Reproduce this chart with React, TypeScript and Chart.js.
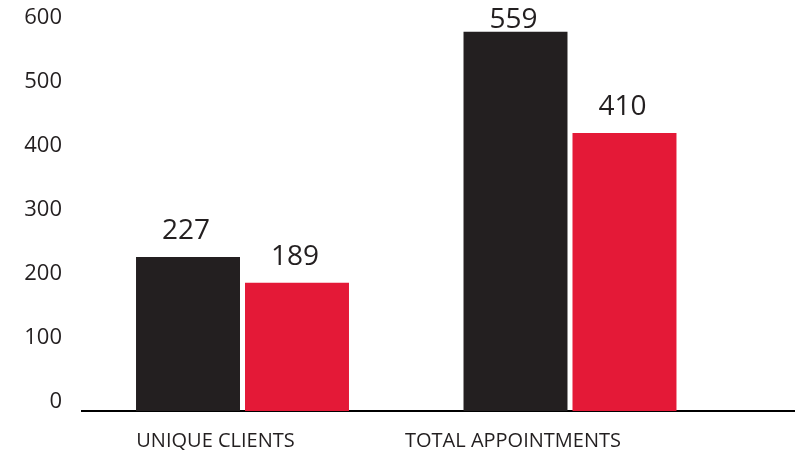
import React, { useEffect, useRef } from 'react';
import { Chart, registerables } from 'chart.js';

Chart.register(...registerables);

const categories = ['UNIQUE CLIENTS', 'TOTAL APPOINTMENTS'];
const categoryPositions = [1, 2];
const seriesBlack = [227, 559];
const seriesRed = [189, 410];
const yTickStep = 100;

const FONT = "'Open Sans', 'Noto Sans', sans-serif";
const TEXT = '#231f20';
const BLACK = '#231f20';
const RED = '#e41937';

const noPad = (s: any) => {
  s.paddingTop = 0;
  s.paddingBottom = 0;
  s.paddingLeft = 0;
  s.paddingRight = 0;
};

export default function App() {
  const ref = useRef<HTMLCanvasElement>(null);

  useEffect(() => {
    const valueLabels = {
      id: 'valueLabels',
      afterDatasetsDraw(chart: any) {
        const ctx = chart.ctx;
        ctx.save();
        ctx.font = `500 28px ${FONT}`;
        ctx.fillStyle = TEXT;
        ctx.textAlign = 'center';
        ctx.textBaseline = 'middle';
        chart.data.datasets.forEach((ds: any, i: number) => {
          chart.getDatasetMeta(i).data.forEach((el: any, j: number) => {
            const v = ds.data[j].y;
            ctx.fillText(String(v), el.x - 2, Math.max(el.y - 26, 20));
          });
        });
        ctx.restore();
      },
    };

    const chart = new Chart(ref.current as HTMLCanvasElement, {
      type: 'bar',
      data: {
        datasets: [
          {
            data: categoryPositions.map((x, i) => ({ x, y: seriesBlack[i] })),
            backgroundColor: BLACK,
            xAxisID: 'x',
            yAxisID: 'y',
            categoryPercentage: 0.6656,
            barPercentage: 0.954,
          },
          {
            data: categoryPositions.map((x, i) => ({ x, y: seriesRed[i] })),
            backgroundColor: RED,
            xAxisID: 'x',
            yAxisID: 'y',
            categoryPercentage: 0.6656,
            barPercentage: 0.954,
          },
        ],
      },
      options: {
        animation: false,
        responsive: false,
        maintainAspectRatio: false,
        layout: { padding: { left: 0, right: 4, top: 4, bottom: 0 } },
        plugins: { legend: { display: false }, tooltip: { enabled: false } },
        scales: {
          x: {
            type: 'linear',
            position: 'bottom',
            weight: 0,
            offset: false,
            min: 0.5099,
            max: 2.684,
            grid: { display: false, drawTicks: false, offset: false },
            border: { display: true, color: '#000000', width: 2 },
            ticks: { display: false },
            afterBuildTicks: (s: any) => {
              s.ticks = categoryPositions.map((value) => ({ value }));
            },
            afterFit: (s: any) => { s.height = 0; noPad(s); },
          },
          xl: {
            type: 'linear',
            axis: 'x',
            position: 'bottom',
            weight: 1,
            offset: false,
            min: 0.5513,
            max: 2.9445,
            grid: { display: false, drawTicks: false, offset: false },
            border: { display: false },
            ticks: {
              font: { family: FONT, size: 20 },
              color: TEXT,
              padding: 18,
              maxRotation: 0,
              autoSkip: false,
              callback: (v: any) => {
                const k = categoryPositions.indexOf(v);
                return k >= 0 ? categories[k] : '';
              },
            },
            afterBuildTicks: (s: any) => {
              s.ticks = categoryPositions.map((value) => ({ value }));
            },
            afterFit: (s: any) => { s.height = 44; noPad(s); },
          },
          y: { display: false, min: 0, max: 600, afterFit: noPad },
          yt: {
            axis: 'y',
            position: 'left',
            min: -14,
            max: 621,
            grid: { display: false, drawTicks: false },
            border: { display: false },
            ticks: {
              stepSize: yTickStep,
              includeBounds: false,
              font: { family: FONT, size: 22 },
              color: TEXT,
              padding: 20,
            },
            afterFit: (s: any) => { s.width = 82; noPad(s); },
          },
        },
      } as any,
      plugins: [valueLabels],
    });
    return () => chart.destroy();
  }, []);

  return (
    <div style={{ position: 'fixed', left: 0, top: 0, width: 798, height: 455, background: '#fff' }}>
      <canvas ref={ref} width={798} height={455} style={{ display: 'block', width: 798, height: 455 }} />
    </div>
  );
}
